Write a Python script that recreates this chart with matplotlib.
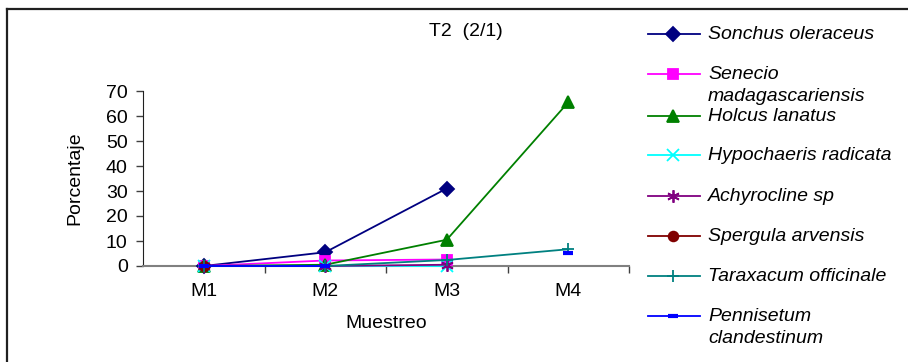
import numpy as np
import matplotlib
matplotlib.use("Agg")
import matplotlib.pyplot as plt
from matplotlib.lines import Line2D
from matplotlib.ticker import FixedLocator

plt.rcParams['font.family'] = ['Liberation Sans', 'DejaVu Sans']

# Sampling dates (categories)
muestreos = ["M1", "M2", "M3", "M4"]

# Percentage per species at each sampling (nan = no value)
sonchus = [0.0, 5.5, 31.0, np.nan]
senecio = [0.0, 2.2, 2.6, np.nan]
holcus = [0.0, 0.5, 10.5, 65.5]
hypochaeris = [0.0, 0.0, 0.0, np.nan]
achyrocline = [0.0, 0.0, 0.5, np.nan]
spergula = [0.0, np.nan, np.nan, np.nan]
taraxacum = [0.0, 0.0, 2.4, 6.7]
pennisetum = [0.0, 0.0, np.nan, 5.3]

series = [
    ("Sonchus oleraceus", sonchus, "#000080", "D", 7, None),
    ("Senecio\nmadagascariensis", senecio, "#FF00FF", "s", 7, None),
    ("Holcus lanatus", holcus, "#008000", "^", 9, None),
    ("Hypochaeris radicata", hypochaeris, "#00FFFF", "x", 8, None),
    ("Achyrocline sp", achyrocline, "#800080", (6, 2, 0), 9, None),
    ("Spergula arvensis", spergula, "#800000", "o", 7, None),
    ("Taraxacum officinale", taraxacum, "#008080", "+", 9, None),
    ("Pennisetum\nclandestinum", pennisetum, "#0000FF", "_", 7, 3),
]

FS = 14
W, H = 908, 362
fig = plt.figure(figsize=(W / 100, H / 100), dpi=100)
ax = fig.add_axes([143 / W, 1 - 266 / H, (629 - 143) / W, (266 - 91) / H])

x = np.arange(len(muestreos))
for label, vals, color, marker, ms, mew in series:
    ax.plot(x, vals, color=color, lw=1.3, marker=marker, markersize=ms,
            markeredgewidth=mew if mew else 1.3, markerfacecolor=color,
            markeredgecolor=color, clip_on=False, zorder=3)

ax.set_xlim(-0.5, 3.5)
ax.set_ylim(0, 70)
ax.set_yticks(range(0, 71, 10))
ax.set_xticks(x)
ax.set_xticklabels(muestreos)
ax.xaxis.set_minor_locator(FixedLocator([0.5, 1.5, 2.5, 3.5]))
ax.tick_params(axis='x', which='major', length=0, pad=12, labelsize=FS)
ax.tick_params(axis='x', which='minor', length=5, width=1, color='#404040',
               direction='out')
ax.tick_params(axis='y', length=5, width=1, color='#404040', pad=6,
               labelsize=FS)

for side in ("top", "right"):
    ax.spines[side].set_visible(False)
ax.spines["left"].set_color("#202020")
ax.spines["bottom"].set_color("#808080")
ax.spines["bottom"].set_linewidth(1.5)

ax.set_ylabel("Porcentaje", fontsize=FS, labelpad=16)
ax.set_xlabel("Muestreo", fontsize=FS, labelpad=11)
fig.text(466 / W, 1 - 32 / H, "T2  (2/1)", fontsize=FS, ha="center",
         va="center")

# Legend drawn in figure pixels
legend_y = [34, 74, 116, 155, 196, 236, 276, 316]
for (label, vals, color, marker, ms, mew), yy in zip(series, legend_y):
    yf = 1 - yy / H
    fig.add_artist(Line2D([648 / W, 700 / W], [yf, yf], color=color, lw=1.3))
    fig.add_artist(Line2D([673 / W], [yf], color=color, marker=marker,
                          markersize=ms, markerfacecolor=color,
                          markeredgecolor=color,
                          markeredgewidth=mew if mew else 1.3))
    fig.text(708 / W, 1 - (yy - 8) / H, label, fontsize=FS, style="italic",
             ha="left", va="top", linespacing=1.35)

# Chart frame (left and top edges)
fig.add_artist(Line2D([7 / W, 7 / W], [0, 1 - 9 / H], color="#202020", lw=1.6))
fig.add_artist(Line2D([7 / W, 1], [1 - 9 / H, 1 - 9 / H], color="#202020",
                      lw=1.6))

fig.savefig("out.png", dpi=100)
